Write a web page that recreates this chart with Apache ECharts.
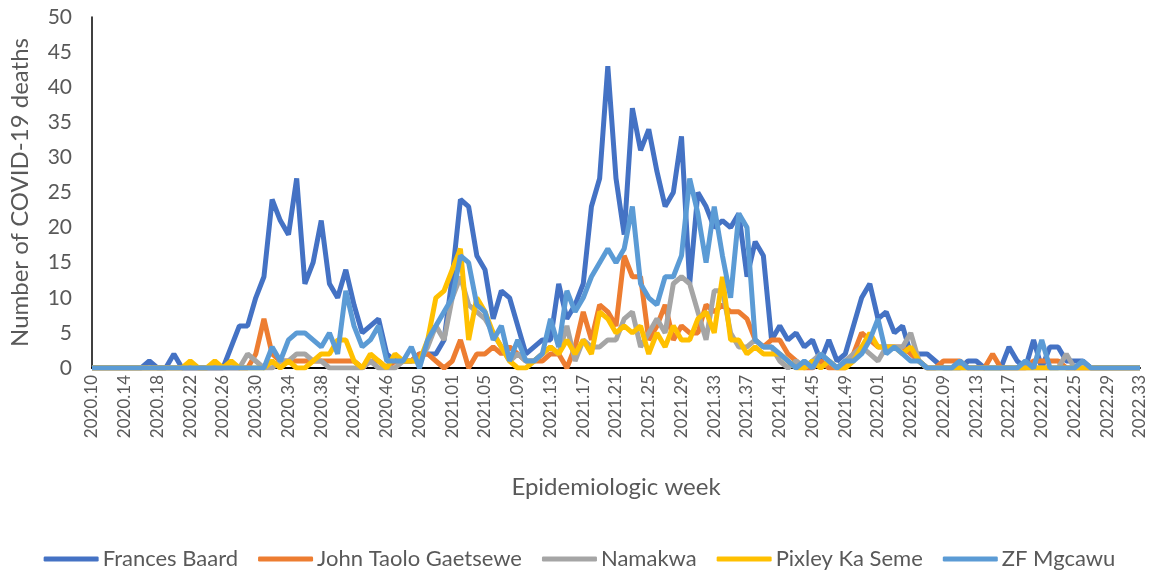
<!DOCTYPE html>
<html>
<head>
<meta charset="utf-8">
<script src="https://cdn.jsdelivr.net/npm/echarts@6/dist/echarts.min.js"></script>
<style>
  html, body { margin: 0; padding: 0; background: #fff; }
  #chart { width: 1159px; height: 577px; }
</style>
</head>
<body>
<div id="chart"></div>
<script>
// epidemiologic weeks: [year, first week, last week]
var weekSpans = [[2020, 10, 53], [2021, 1, 52], [2022, 1, 33]];
var weeks = [];
weekSpans.forEach(function (s) {
    for (var w = s[1]; w <= s[2]; w++) {
        weeks.push(s[0] + '.' + (w < 10 ? '0' + w : w));
    }
});

var seriesNames = ['Frances Baard', 'John Taolo Gaetsewe', 'Namakwa', 'Pixley Ka Seme', 'ZF Mgcawu'];
var seriesColors = ['#4472C4', '#ED7D31', '#A5A5A5', '#FFC000', '#5B9BD5'];

var francesBaard = [
    0, 0, 0, 0, 0, 0, 0, 1, 0, 0,
    2, 0, 0, 0, 0, 0, 0, 3, 6, 6,
    10, 13, 24, 21, 19, 27, 12, 15, 21, 12,
    10, 14, 9, 5, 6, 7, 2, 1, 1, 1,
    2, 2, 2, 4, 13, 24, 23, 16, 14, 7,
    11, 10, 6, 2, 3, 4, 4, 12, 7, 9,
    12, 23, 27, 43, 27, 19, 37, 31, 34, 28,
    23, 25, 33, 12, 25, 23, 20, 21, 20, 22,
    13, 18, 16, 4, 6, 4, 5, 3, 4, 1,
    4, 1, 2, 6, 10, 12, 7, 8, 5, 6,
    2, 2, 2, 1, 0, 0, 0, 1, 1, 0,
    0, 0, 3, 1, 0, 4, 0, 3, 3, 1,
    1, 1, 0, 0, 0, 0, 0, 0, 0
];
var johnTaolo = [
    0, 0, 0, 0, 0, 0, 0, 0, 0, 0,
    0, 0, 0, 0, 0, 0, 0, 0, 0, 0,
    2, 7, 2, 1, 1, 1, 1, 1, 1, 1,
    1, 1, 1, 0, 1, 1, 0, 1, 1, 1,
    2, 2, 1, 0, 1, 4, 0, 2, 2, 3,
    2, 3, 2, 1, 1, 1, 2, 2, 0, 3,
    8, 4, 9, 8, 6, 16, 13, 13, 4, 6,
    9, 4, 6, 5, 5, 9, 8, 9, 8, 8,
    7, 4, 3, 4, 4, 2, 1, 0, 0, 1,
    0, 0, 0, 2, 5, 4, 3, 3, 3, 3,
    2, 1, 0, 0, 1, 1, 1, 0, 0, 0,
    2, 0, 0, 0, 0, 1, 1, 1, 1, 0,
    0, 0, 0, 0, 0, 0, 0, 0, 0
];
var namakwa = [
    0, 0, 0, 0, 0, 0, 0, 0, 0, 0,
    0, 0, 0, 0, 0, 0, 0, 0, 0, 2,
    1, 0, 0, 1, 1, 2, 2, 1, 1, 0,
    0, 0, 0, 0, 1, 0, 0, 0, 1, 1,
    1, 3, 6, 4, 10, 13, 9, 8, 7, 5,
    3, 1, 2, 1, 1, 2, 3, 2, 6, 1,
    4, 3, 3, 4, 4, 7, 8, 3, 5, 7,
    5, 12, 13, 12, 8, 4, 11, 11, 5, 3,
    3, 4, 3, 3, 1, 0, 1, 0, 1, 2,
    1, 0, 1, 2, 3, 2, 1, 3, 3, 3,
    5, 1, 0, 0, 0, 0, 0, 0, 0, 0,
    0, 0, 0, 0, 0, 0, 0, 0, 0, 2,
    0, 0, 0, 0, 0, 0, 0, 0, 0
];
var pixleyKaSeme = [
    0, 0, 0, 0, 0, 0, 0, 0, 0, 0,
    0, 0, 1, 0, 0, 1, 0, 1, 0, 0,
    0, 0, 1, 0, 1, 0, 0, 1, 2, 2,
    4, 4, 1, 0, 2, 1, 0, 2, 1, 1,
    1, 4, 10, 11, 14, 17, 4, 10, 8, 5,
    3, 1, 0, 0, 1, 2, 3, 2, 4, 2,
    4, 2, 8, 7, 5, 6, 5, 6, 2, 5,
    3, 6, 4, 4, 7, 8, 5, 13, 4, 4,
    2, 3, 2, 2, 2, 1, 0, 0, 1, 0,
    1, 0, 0, 1, 3, 5, 3, 3, 3, 2,
    3, 1, 0, 0, 0, 0, 0, 0, 0, 0,
    0, 0, 0, 0, 0, 0, 0, 0, 0, 0,
    0, 0, 0, 0, 0, 0, 0, 0, 0
];
var zfMgcawu = [
    0, 0, 0, 0, 0, 0, 0, 0, 0, 0,
    0, 0, 0, 0, 0, 0, 0, 0, 0, 0,
    0, 0, 3, 1, 4, 5, 5, 4, 3, 5,
    2, 11, 6, 3, 4, 6, 1, 1, 1, 3,
    0, 4, 6, 8, 10, 16, 15, 9, 8, 4,
    6, 1, 4, 1, 1, 2, 7, 3, 11, 8,
    10, 13, 15, 17, 15, 17, 23, 12, 10, 9,
    13, 13, 16, 27, 22, 15, 23, 16, 10, 22,
    20, 4, 3, 3, 2, 1, 0, 1, 0, 2,
    1, 0, 1, 1, 2, 4, 7, 2, 3, 2,
    1, 1, 0, 0, 0, 0, 1, 0, 0, 0,
    0, 0, 0, 0, 1, 0, 4, 0, 0, 0,
    0, 1, 0, 0, 0, 0, 0, 0, 0
];
var allValues = [francesBaard, johnTaolo, namakwa, pixleyKaSeme, zfMgcawu];

var font = 'Lato, "Liberation Sans", sans-serif';
var textGrey = '#595959';

var option = {
    animation: false,
    color: seriesColors,
    grid: { left: 91, right: 19, top: 17, bottom: 209 },
    legend: {
        data: seriesNames,
        left: 'center',
        top: 543,
        icon: 'roundRect',
        itemWidth: 55,
        itemHeight: 5,
        itemGap: 20,
        textStyle: { fontFamily: font, fontSize: 22, color: textGrey, padding: [0, 0, 0, -1] }
    },
    xAxis: {
        type: 'category',
        data: weeks,
        boundaryGap: false,
        name: 'Epidemiologic week',
        nameLocation: 'middle',
        nameGap: 107,
        nameTextStyle: { fontFamily: font, fontSize: 24, color: textGrey },
        axisLine: { lineStyle: { color: '#000', width: 2 } },
        axisTick: { show: false },
        axisLabel: {
            interval: 3,
            rotate: 90,
            margin: 7,
            fontFamily: font,
            fontSize: 17,
            color: textGrey
        }
    },
    yAxis: {
        type: 'value',
        min: 0,
        max: 50,
        interval: 5,
        name: 'Number of COVID-19 deaths',
        nameLocation: 'middle',
        nameGap: 60,
        nameTextStyle: { fontFamily: font, fontSize: 24, color: textGrey },
        axisLine: { show: true, lineStyle: { color: '#000', width: 1.5 } },
        axisTick: { show: false },
        splitLine: { show: false },
        axisLabel: { fontFamily: font, fontSize: 21, color: textGrey, margin: 20 }
    },
    series: seriesNames.map(function (name, k) {
        return {
            name: name,
            type: 'line',
            data: allValues[k],
            symbol: 'none',
            lineStyle: { width: 5, color: seriesColors[k] }
        };
    })
};

var myChart = echarts.init(document.getElementById('chart'));
myChart.setOption(option);
</script>
</body>
</html>
